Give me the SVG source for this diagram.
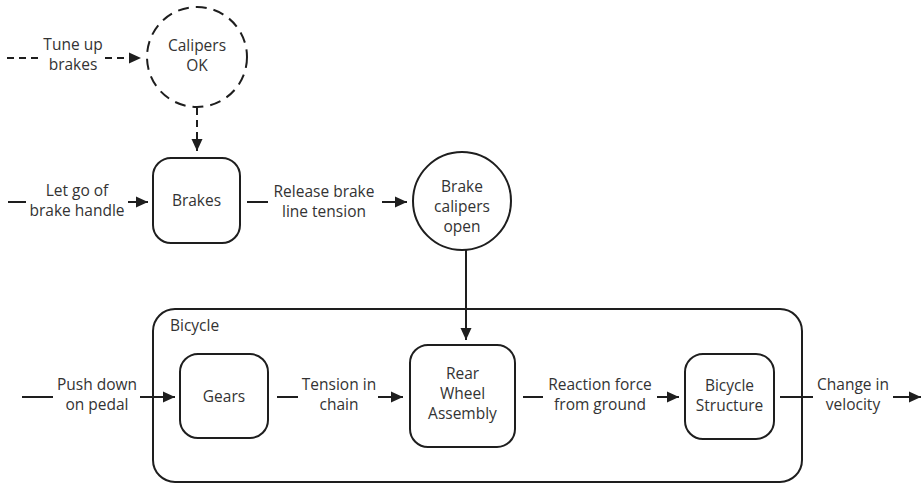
<svg xmlns="http://www.w3.org/2000/svg" width="921" height="484" viewBox="0 0 921 484">
  <defs>
    <marker id="arrowBig" viewBox="0 0 12 12" refX="12" refY="6" markerWidth="12" markerHeight="12" markerUnits="userSpaceOnUse" orient="auto">
      <path d="M0,0.5 L12,6 L0,11.5 z" fill="#1e1e1e"/>
    </marker>
  </defs>
  <style>
    .node { fill: #fff; stroke: #1e1e1e; stroke-width: 2; }
    .ring { stroke-dasharray: 11 7; }
    .dashed { stroke-dasharray: 7 5; }
    .flow { fill: none; stroke: #1e1e1e; stroke-width: 2; }
    .lbl { font-family: "Open Sans", "Noto Sans", sans-serif; font-size: 15.5px; fill: #333; text-anchor: middle; }
    .title { font-family: "Open Sans", "Noto Sans", sans-serif; font-size: 15.5px; fill: #333; }
  </style>
  <rect width="921" height="484" fill="#fff"/>

  <g id="bicycle">
    <rect class="node" x="153" y="309" width="649" height="173" rx="22"/>
    <text class="title" x="170" y="331">Bicycle</text>
  </g>

  <g id="connectors">
    <!-- Tune up brakes -->
    <path class="flow dashed" d="M7,58 H38"/>
    <path class="flow dashed" d="M105,58 H141" marker-end="url(#arrowBig)"/>
    <!-- Calipers OK to Brakes -->
    <path class="flow dashed" d="M197,108 V151" marker-end="url(#arrowBig)"/>
    <!-- Let go of brake handle -->
    <path class="flow" d="M8,202 H26"/>
    <path class="flow" d="M128,202 H148" marker-end="url(#arrowBig)"/>
    <!-- Release brake line tension -->
    <path class="flow" d="M247,202 H268"/>
    <path class="flow" d="M382,202 H407" marker-end="url(#arrowBig)"/>
    <!-- Brake calipers open to Rear Wheel Assembly -->
    <path class="flow" d="M466,250 V340" marker-end="url(#arrowBig)"/>
    <!-- Push down on pedal -->
    <path class="flow" d="M22,397 H53"/>
    <path class="flow" d="M140,397 H175" marker-end="url(#arrowBig)"/>
    <!-- Tension in chain -->
    <path class="flow" d="M277,397 H298"/>
    <path class="flow" d="M378,397 H403" marker-end="url(#arrowBig)"/>
    <!-- Reaction force from ground -->
    <path class="flow" d="M523,397 H543"/>
    <path class="flow" d="M657,397 H679" marker-end="url(#arrowBig)"/>
    <!-- Change in velocity -->
    <path class="flow" d="M780,397 H813"/>
    <path class="flow" d="M893,397 H921" marker-end="url(#arrowBig)"/>
  </g>

  <g id="labels">
    <text class="lbl" x="73" y="50">Tune up</text>
    <text class="lbl" x="73" y="70">brakes</text>
    <text class="lbl" x="77" y="196">Let go of</text>
    <text class="lbl" x="77" y="216">brake handle</text>
    <text class="lbl" x="324" y="197">Release brake</text>
    <text class="lbl" x="324" y="217">line tension</text>
    <text class="lbl" x="97" y="390">Push down</text>
    <text class="lbl" x="97" y="410">on pedal</text>
    <text class="lbl" x="339" y="390">Tension in</text>
    <text class="lbl" x="339" y="410">chain</text>
    <text class="lbl" x="600" y="390">Reaction force</text>
    <text class="lbl" x="600" y="410">from ground</text>
    <text class="lbl" x="853" y="390">Change in</text>
    <text class="lbl" x="853" y="410">velocity</text>
  </g>

  <g id="calipers-ok">
    <circle class="node ring" cx="197" cy="57" r="50"/>
    <text class="lbl" x="197" y="51">Calipers</text>
    <text class="lbl" x="197" y="71">OK</text>
  </g>

  <g id="brakes">
    <rect class="node" x="153" y="158" width="87" height="85" rx="18"/>
    <text class="lbl" x="196.5" y="206">Brakes</text>
  </g>

  <g id="brake-calipers-open">
    <circle class="node" cx="462" cy="201" r="49"/>
    <text class="lbl" x="462" y="192">Brake</text>
    <text class="lbl" x="462" y="212">calipers</text>
    <text class="lbl" x="462" y="232">open</text>
  </g>

  <g id="gears">
    <rect class="node" x="180" y="354" width="88" height="84" rx="18"/>
    <text class="lbl" x="224" y="402">Gears</text>
  </g>

  <g id="rear-wheel-assembly">
    <rect class="node" x="410" y="345" width="105" height="102" rx="18"/>
    <text class="lbl" x="462.5" y="379">Rear</text>
    <text class="lbl" x="462.5" y="399">Wheel</text>
    <text class="lbl" x="462.5" y="419">Assembly</text>
  </g>

  <g id="bicycle-structure">
    <rect class="node" x="685" y="354" width="89" height="85" rx="18"/>
    <text class="lbl" x="729.5" y="391">Bicycle</text>
    <text class="lbl" x="729.5" y="411">Structure</text>
  </g>
</svg>
